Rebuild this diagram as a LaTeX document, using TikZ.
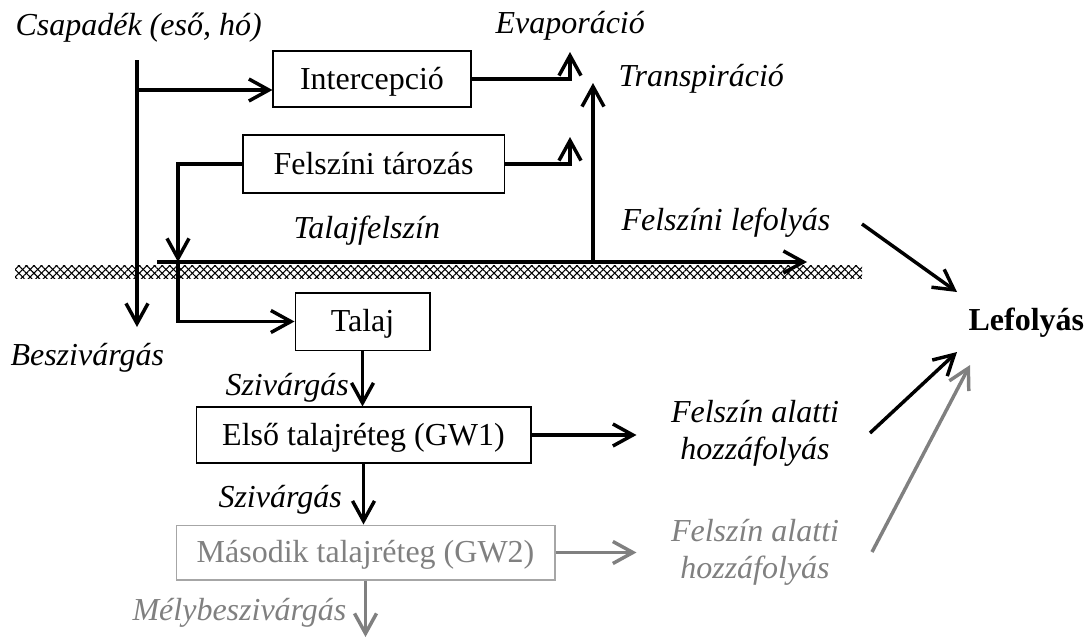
\documentclass[tikz,border=0pt]{standalone}
\usepackage{fontspec}
\setmainfont{Liberation Serif}
\usetikzlibrary{arrows.meta,patterns.meta}

\begin{document}
\begin{tikzpicture}[x = 0.375pt, y = -0.375pt,
	every node/.style = {font=\fontsize{12}{13.9}\selectfont},
	box/.style = {draw, line width=0.4pt, inner sep=0pt, text height=10.2pt, text depth=2.4pt},
	lbl/.style = {font=\fontsize{12}{13.9}\selectfont\itshape, inner sep=0pt},
	flow/.style = {line width=1.3pt, -{Straight Barb[length=7.5pt,width=8.25pt,line width=1.3pt]}},
	pale/.style = {draw=gray!70, text=gray}]

	\useasboundingbox (0,0) rectangle (1087,639);

	% texts
	\node [lbl, anchor=base west] (csap) at (15,35) {Csapadék (eső, hó)};
	\node [lbl, anchor=base west] (evap) at (495,33) {Evaporáció};
	\node [lbl, anchor=base west] (transp) at (618,86) {Transpiráció};
	\node [lbl, anchor=base west] (tfelsz) at (293,238) {Talajfelszín};
	\node [lbl, anchor=base west] (surf) at (621,230) {Felszíni lefolyás};
	\node [lbl, anchor=base west] (besz) at (10,365) {Beszivárgás};
	\node [lbl, anchor=base west] (sziv1) at (225,395) {Szivárgás};
	\node [lbl, anchor=base west] (sziv2) at (218,507) {Szivárgás};
	\node [lbl, anchor=base west, text=gray] (mely) at (132,620) {Mélybeszivárgás};
	\node [lbl, align=center] (sub1) at (755,433) {Felszín alatti\\hozzáfolyás};
	\node [lbl, align=center, text=gray] (sub2) at (755,552.5) {Felszín alatti\\hozzáfolyás};
	\node [font=\fontsize{12}{13.9}\selectfont\bfseries, inner sep=0pt, anchor=base west] (lef) at (968,330) {Lefolyás};

	% boxes
	\node [box, minimum width=74.25pt, minimum height=21pt] (icp) at (372,79) {Intercepció};
	\node [box, minimum width=97.9pt, minimum height=21.75pt] (tar) at (373.5,164) {Felszíni tározás};
	\node [box, minimum width=50.6pt, minimum height=21.4pt] (talaj) at (362.5,321.5) {Talaj};
	\node [box, minimum width=125.6pt, minimum height=21pt] (elso) at (363.5,435) {Első talajréteg (GW1)};
	\node [box, pale, minimum width=142.1pt, minimum height=20.6pt] (mas) at (365.5,552.5) {Második talajréteg (GW2)};

	\coordinate (rainTop) at (137,60);
	\coordinate (rainEnd) at (137,327);
	\coordinate (icpIn) at (137,90);
	\coordinate (evapTip) at (570,52);
	\coordinate (tarTip) at (570,137);
	\coordinate (gStart) at (157,262);
	\coordinate (gEnd) at (807,262);
	\coordinate (gIn) at (178,262);
	\coordinate (trRoot) at (593,262);
	\coordinate (trTip) at (593,83);
	\coordinate (deep) at (365.5,637);
	\coordinate (r1a) at (862,224);
	\coordinate (r1b) at (957,292);
	\coordinate (r2a) at (870,433);
	\coordinate (r2b) at (957,352);
	\coordinate (r3a) at (872,552);
	\coordinate (r3b) at (970,365);

	% ground
	\fill [pattern={Lines[angle=45,distance=2pt,line width=0.4pt]}] (15,265) rectangle (862,278);
	\fill [pattern={Lines[angle=-45,distance=2pt,line width=0.4pt]}] (15,265) rectangle (862,278);
	%\draw (15,265) rectangle (862,278);

	\draw [flow] (rainTop) -- (rainEnd);
	\draw [flow] (icpIn) -- (icpIn -| icp.west);
	\draw [flow] (icp.east) -| (evapTip);
	\draw [flow] (tar.east) -| (tarTip);
	\draw [flow] (tar.west) -| (gIn);
	\draw [flow] (gStart) -- (gEnd);
	\draw [flow] (trRoot) -- (trTip);
	\draw [flow] (gIn) |- (talaj.west);
	\draw [flow] (talaj.south) -- (talaj.south |- elso.north);
	\draw [flow] (elso.south) -- (elso.south |- mas.north);
	\draw [flow, gray] (mas.south) -- (deep);
	\draw [flow, shorten >=12.75pt] (elso.east) -- (elso.east -| sub1.west);
	\draw [flow, gray, shorten >=12.75pt] (mas.east) -- (mas.east -| sub2.west);
	\draw [flow] (r1a) -- (r1b);
	\draw [flow] (r2a) -- (r2b);
	\draw [flow, gray] (r3a) -- (r3b);

\end{tikzpicture}
\end{document}
